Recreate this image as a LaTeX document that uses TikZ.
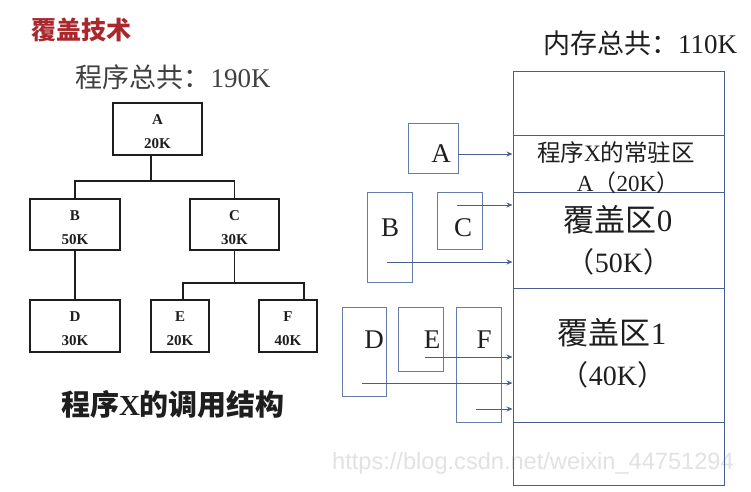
\documentclass[tikz,border=0pt]{standalone}
\usepackage{fontspec}
\setmainfont{Liberation Serif}
\newfontfamily\cjk{Noto Sans CJK SC}
\newfontfamily\wmfont{Liberation Sans}
\usetikzlibrary{arrows.meta}
\definecolor{titlered}{RGB}{170,40,45}
\definecolor{memblue}{RGB}{70,95,140}
\definecolor{boxblue}{RGB}{100,125,170}
\definecolor{ink}{RGB}{30,30,30}
\definecolor{wmgray}{RGB}{226,226,226}
\begin{document}
\begin{tikzpicture}[x=1pt,y=-1pt,
  treebox/.style={draw=ink, line width=1.6pt, inner sep=0pt, minimum height=52pt},
  treelbl/.style={align=center, text=ink, inner sep=0pt, yshift=-3pt,
    font=\bfseries\fontsize{15}{24}\selectfont},
  treeline/.style={draw=ink, line width=1.6pt},
  smallbox/.style={draw=boxblue, line width=1pt, inner sep=0pt, minimum width=45pt},
  letter/.style={font=\fontsize{27}{27}\selectfont, text=ink, inner sep=0pt},
  memtext/.style={text=ink, inner sep=0pt},
  arr/.style={draw=memblue, line width=0.9pt, -{Stealth[length=6pt,width=5pt]}},
  memline/.style={draw=memblue, line width=1pt}]
\useasboundingbox[fill=white] (0,0) rectangle (751,491);

% watermark
\node[font=\wmfont\fontsize{23.6}{23.6}\selectfont, text=wmgray, anchor=west, inner sep=0pt] (wm) at (332,463) {https://blog.csdn.net/weixin\_44751294};

% title
\node[font=\cjk\bfseries\fontsize{25}{25}\selectfont, text=titlered, anchor=west, inner sep=0pt] (title) at (31,30) {覆盖技术};

% left tree
\node[font=\fontsize{27}{27}\selectfont, text=ink!85, inner sep=0pt] (tot) at (173,77) {{\cjk 程序总共：}190K};
\node[treebox, minimum width=89pt, label={[treelbl]center:{A\\20K}}] (A) at (157.5,129) {};
\node[treebox, minimum width=90pt, minimum height=51pt, label={[treelbl]center:{B\\50K}}] (B) at (75,224.5) {};
\node[treebox, minimum width=89pt, minimum height=51pt, label={[treelbl]center:{C\\30K}}] (C) at (234.5,224.5) {};
\node[treebox, minimum width=90pt, label={[treelbl]center:{D\\30K}}] (D) at (75,326) {};
\node[treebox, minimum width=58pt, label={[treelbl]center:{E\\20K}}] (E) at (180,326) {};
\node[treebox, minimum width=58pt, label={[treelbl]center:{F\\40K}}] (F) at (288,326) {};
\draw[treeline] ([xshift=-6.5pt]A.south) -- ++(0,25) coordinate (aj);
\draw[treeline] (B.north) |- (aj) -| (C.north);
\draw[treeline] (B.south) -- (D.north);
\draw[treeline] (C.south) -- ++(0,32) coordinate (cj);
\draw[treeline] ([xshift=3pt]E.north) |- (cj) -| ([xshift=16pt]F.north);
\node[font=\bfseries\fontsize{29}{29}\selectfont, text=ink, inner sep=0pt] (cap) at (173,404) {{\cjk 程序}X{\cjk 的调用结构}};

% memory
\node[font=\fontsize{27}{27}\selectfont, text=ink, inner sep=0pt] (mtot) at (640,43) {{\cjk 内存总共：}110K};
\node[draw=memblue, line width=1pt, inner sep=0pt, minimum width=211pt, minimum height=414pt] (mem) at (618.5,278) {};
\foreach \yy in {135,192,288,422} \draw[memline] (513,\yy) -- (724,\yy);
\node[memtext, font=\fontsize{23.5}{23.5}\selectfont] (r1) at (616,153) {{\cjk 程序}X{\cjk 的常驻区}};
\node[memtext, font=\fontsize{23}{23}\selectfont] (r2) at (628,183) {A{\cjk （}20K{\cjk ）}};
\node[memtext, font=\fontsize{31}{31}\selectfont] (o0) at (618,220) {{\cjk 覆盖区}0};
\node[memtext, font=\fontsize{28}{28}\selectfont] (o0s) at (619,262) {{\cjk （}50K{\cjk ）}};
\node[memtext, font=\fontsize{31}{31}\selectfont] (o1) at (612,333) {{\cjk 覆盖区}1};
\node[memtext, font=\fontsize{28}{28}\selectfont] (o1s) at (613,375) {{\cjk （}40K{\cjk ）}};

% small boxes
\node[smallbox, minimum width=50pt, minimum height=50pt] (sA) at (433,148) {};
\node[smallbox, minimum height=90pt] (sB) at (389.5,237) {};
\node[smallbox, minimum height=57pt] (sC) at (459.5,220.5) {};
\node[smallbox, minimum width=44pt, minimum height=89pt] (sD) at (364,351.5) {};
\node[smallbox, minimum height=64pt] (sE) at (420.5,339) {};
\node[smallbox, minimum height=115pt] (sF) at (478.5,364.5) {};
\node[letter] (lA) at (441,154) {A};
\node[letter] (lB) at (390,228) {B};
\node[letter] (lC) at (463,228) {C};
\node[letter] (lD) at (374,340) {D};
\node[letter] (lE) at (432,340) {E};
\node[letter] (lF) at (484,340) {F};

% arrows
\coordinate (pA) at (458,154);
\coordinate (pC) at (457,205);
\coordinate (pB) at (387,262);
\coordinate (pE) at (425,357);
\coordinate (pD) at (362,383);
\coordinate (pF) at (476,409);
\foreach \p in {pA,pB,pC,pD,pE,pF} \draw[arr] (\p) -- (\p -| mem.west);
\end{tikzpicture}
\end{document}
